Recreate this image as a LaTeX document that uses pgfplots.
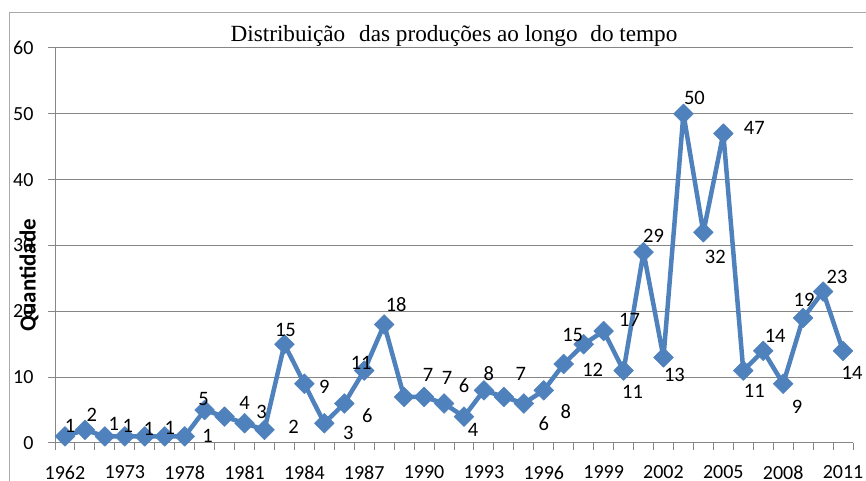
\documentclass[border=0pt]{standalone}
\usepackage{pgfplots}
\pgfplotsset{compat=1.18}
\usepackage{pgfplotstable}
\usepackage{fontspec}
\setmainfont{Carlito}
\newfontfamily\titlefont{Liberation Serif}
\definecolor{serie}{HTML}{4F81BD}
\definecolor{gridc}{HTML}{868686}
\pgfplotstableread{
x y dx dy
1 1 5 11
2 2 7 15
3 1 9 13
4 1 3 11
5 1 4 8
6 1 5 9
7 1 23 1
8 5 -1 11
9 4 20 14
10 3 17 11
11 2 29 3
12 15 1 14
13 9 20 -3
14 3 24 -10
15 6 23 -12
16 11 -3 8
17 18 12 20
18 7 24 22
19 7 23 19
20 6 20 18
21 4 9 -13
22 8 5 17
23 7 17 23
24 6 20 -20
25 8 22 -21
26 12 29 -6
27 15 -11 9
28 17 26 11
29 11 9 -21
30 29 10 16
31 13 11 -18
32 50 11 16
33 32 12 -25
34 47 31 6
35 11 11 -20
36 14 12 15
37 9 14 -23
38 19 1 18
39 23 14 15
40 14 9 -22
}\datatable
\begin{document}
\begin{tikzpicture}[x=1pt,y=1pt]
\useasboundingbox (0,0) rectangle (866,481);
\draw[gridc!70, line width=0.8pt] (9,-5) -- (9,469) -- (875,469);
\begin{axis}[
  at={(55pt,38pt)}, anchor=south west,
  scale only axis, width=798pt, height=395pt,
  xmin=0.5, xmax=40.5, ymin=0, ymax=60,
  clip=false,
  /pgf/number format/assume math mode=true,
  axis x line=bottom, axis y line=left,
  axis line style={-, draw=gridc, line width=1pt},
  ytick={0,10,...,60},
  ymajorgrids, grid style={draw=gridc, line width=1pt},
  tick align=outside,
  major tick length=7pt,
  tick style={draw=gridc, line width=1pt},
  xtick={0.5,1.5,...,40.5},
  xticklabel={\hbox{}},
  extra x ticks={1,4,...,40},
  extra x tick labels={1962,1973,1978,1981,1984,1987,1990,1993,1996,1999,2002,2005,2008,2011},
  extra x tick style={major tick length=0pt},
  tick label style={font=\fontsize{20}{24}\selectfont},
  xticklabel style={yshift=-19pt},
  yticklabel style={anchor=east, xshift=-11pt},
  ylabel={Quantidade},
  ylabel style={at={(rel axis cs:0,0.425)}, anchor=center, yshift=26pt, font=\bfseries\fontsize{23}{26}\selectfont},
  title={Distribuição\hspace{0.35em} das produções ao longo\hspace{0.3em} do tempo},
  title style={at={(rel axis cs:0.5,1)}, anchor=base, yshift=0pt, font=\titlefont\fontsize{23.2}{26}\selectfont},
]
\addplot[serie, line width=4.5pt, line join=round,
  mark=square*, mark size=7pt,
  mark options={rotate=45, line width=0.5pt, fill=serie, draw=serie},
  nodes near coords, point meta=explicit,
  visualization depends on={\thisrow{dx}\as\dx},
  visualization depends on={\thisrow{dy}\as\dy},
  every node near coord/.append style={anchor=center, text=black, xshift=\dx pt, yshift=\dy pt, font=\fontsize{20.5}{24}\selectfont, inner sep=0pt}
] table[x=x, y=y, meta=y] {\datatable};
\end{axis}
\end{tikzpicture}
\end{document}
